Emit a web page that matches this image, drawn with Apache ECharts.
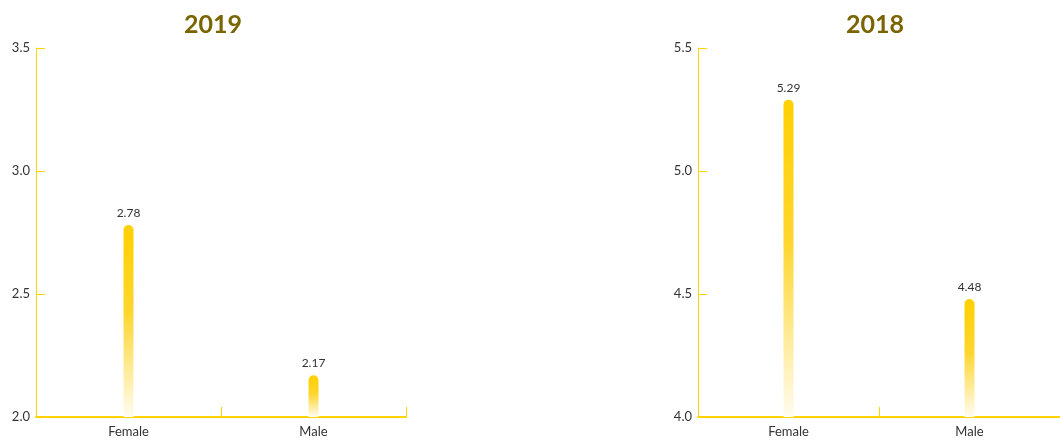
<!DOCTYPE html>
<html>
<head>
<meta charset="utf-8">
<script src="https://cdn.jsdelivr.net/npm/echarts@6/dist/echarts.min.js"></script>
<style>
  html, body { margin: 0; padding: 0; background: #ffffff; }
  #chart { width: 1060px; height: 441px; }
</style>
</head>
<body>
<div id="chart"></div>
<script>
// Gender values per year
const categories = ['Female', 'Male'];
const titles = ['2019', '2018'];
const values2019 = [2.78, 2.17];
const values2018 = [5.29, 4.48];
const yRange2019 = { min: 2.0, max: 3.5, interval: 0.5 };
const yRange2018 = { min: 4.0, max: 5.5, interval: 0.5 };

const yellow = '#FFD400';
const fontFamily = 'Lato, "Noto Sans", sans-serif';

const barColor = new echarts.graphic.LinearGradient(0, 0, 0, 1, [
  { offset: 0, color: '#FFD000' },
  { offset: 0.45, color: '#FFD62E' },
  { offset: 1, color: '#FFFCF0' }
]);

function xAxis(gridIndex) {
  return {
    type: 'category', gridIndex, data: categories,
    boundaryGap: true,
    axisLine: { show: true, lineStyle: { color: yellow, width: 2 } },
    axisTick: { show: true, inside: true, length: 10, interval: 0, alignWithLabel: false,
      lineStyle: { color: yellow, width: 1 } },
    axisLabel: { color: '#333', fontSize: 13, fontFamily, margin: 8 }
  };
}
function yAxis(gridIndex, range) {
  return {
    type: 'value', gridIndex, min: range.min, max: range.max, interval: range.interval,
    splitLine: { show: false },
    axisLine: { show: true, lineStyle: { color: yellow, width: 1 } },
    axisTick: { show: true, inside: true, length: 9, lineStyle: { color: yellow, width: 1 } },
    axisLabel: { color: '#333', fontSize: 13, fontFamily, margin: 6,
      formatter: v => v.toFixed(1) }
  };
}
function series(index, data) {
  return {
    type: 'bar', xAxisIndex: index, yAxisIndex: index, data,
    barWidth: 10,
    itemStyle: { color: barColor, borderRadius: [5, 5, 0, 0] },
    label: { show: true, position: 'top', distance: 6, color: '#333',
      fontSize: 12, fontFamily, formatter: p => p.value.toFixed(2) }
  };
}

const chart = echarts.init(document.getElementById('chart'), null, { renderer: 'canvas' });
chart.setOption({
  animation: false,
  title: [
    { text: titles[0], left: 208, top: 7, textAlign: 'center',
      textStyle: { color: '#7A6400', fontSize: 25, fontWeight: 'bold', fontFamily } },
    { text: titles[1], left: 870, top: 7, textAlign: 'center',
      textStyle: { color: '#7A6400', fontSize: 25, fontWeight: 'bold', fontFamily } }
  ],
  grid: [
    { left: 36, top: 48, width: 370, height: 369 },
    { left: 698, top: 48, width: 370, height: 369 }
  ],
  xAxis: [xAxis(0), xAxis(1)],
  yAxis: [yAxis(0, yRange2019), yAxis(1, yRange2018)],
  series: [series(0, values2019), series(1, values2018)]
});
</script>
</body>
</html>
